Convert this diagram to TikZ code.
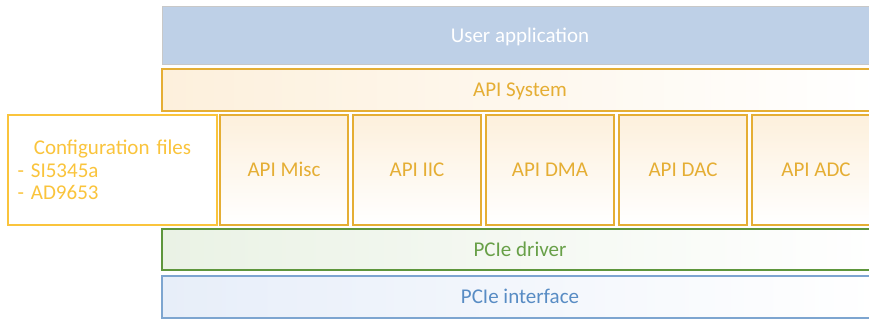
\documentclass[tikz,border=0pt]{standalone}
\usepackage{fontspec}
\setmainfont{Carlito}
\usetikzlibrary{positioning}
\definecolor{sky}{RGB}{190,208,231}
\definecolor{frame}{RGB}{200,200,200}
\definecolor{amber}{RGB}{229,174,52}
\definecolor{ambertint}{RGB}{253,240,220}
\definecolor{gold}{RGB}{250,196,60}
\definecolor{leaf}{RGB}{94,150,60}
\definecolor{leaftext}{RGB}{104,160,72}
\definecolor{leaftint}{RGB}{234,242,229}
\definecolor{steel}{RGB}{125,165,208}
\definecolor{steeltext}{RGB}{88,140,196}
\definecolor{steeltint}{RGB}{231,238,249}
\tikzset{
  label font/.style={font=\fontsize{21}{24}\selectfont,text height=15pt,text depth=1.5pt},
  % one horizontal layer of the stack
  layer/.style n args={3}{draw=#1,line width=1.3pt,left color=#2,right color=white,
    text=#3,minimum width=716pt,inner sep=0pt,outer sep=0pt,label font},
  apibox/.style={draw=amber,line width=1.3pt,top color=ambertint,bottom color=white,
    text=amber,minimum width=128pt,minimum height=110pt,
    inner sep=0pt,outer sep=0pt,label font},
}

\begin{document}
\begin{tikzpicture}[x=1pt,y=-1pt]
  \useasboundingbox (0,0) rectangle (869,320);
  \clip (0,0) rectangle (869,320);
  % top of the stack
  \node[fill=sky,draw=frame,line width=1pt,text=white,minimum width=716pt,minimum height=58pt,
    inner sep=0pt,label font] (app) at (520,36) {User application};
  \node[layer={amber}{ambertint}{amber},minimum height=42pt] (sys) at (520,90) {API System};
  % configuration + API modules
  \node[draw=gold,line width=1.3pt,fill=white,minimum width=209pt,minimum height=110pt,
    inner sep=0pt,text width=190pt,text=gold,font=\fontsize{21}{22.5}\selectfont] (cfg) at (112.5,170)
    {\centering Configuration files\par\raggedright - SI5345a\par - AD9653};
  \foreach \t/\n [count=\k from 0] in {Misc/misc,IIC/iic,DMA/dma,DAC/dac,ADC/adc}
    \node[apibox] (\n) at (284+133*\k,170) {API \t};
  % bus side
  \node[layer={leaf}{leaftint}{leaftext},minimum height=41pt] (drv) at (520,249.5) {PCIe driver};
  \node[layer={steel}{steeltint}{steeltext},minimum height=42pt] (pcie) at (520,297) {PCIe interface};
\end{tikzpicture}
\end{document}
